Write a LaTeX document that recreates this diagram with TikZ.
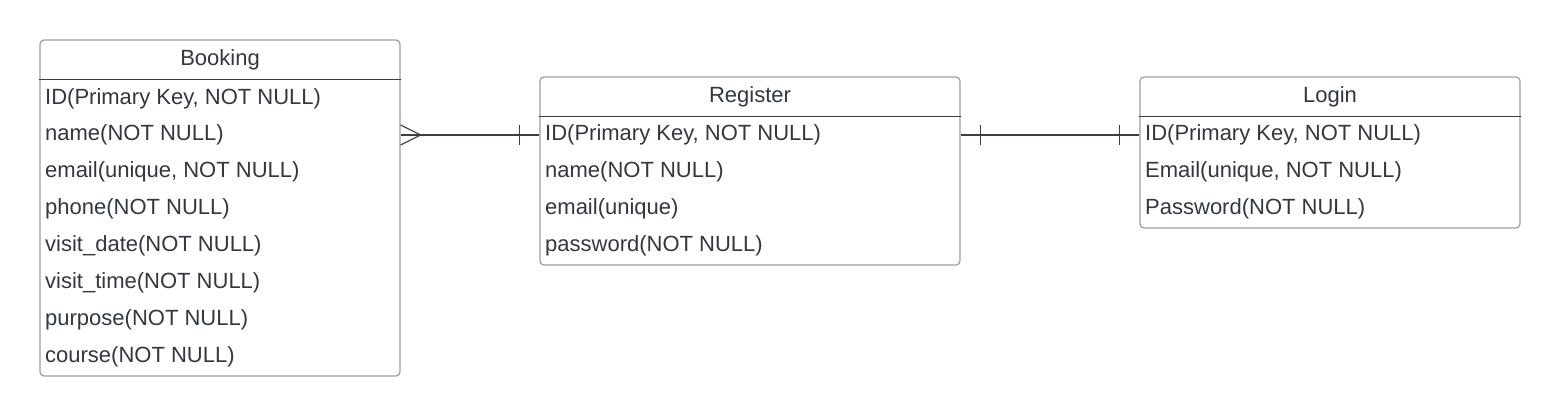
\documentclass[tikz,border=0pt]{standalone}
\usepackage{fontspec}
\setmainfont{Liberation Sans}
\definecolor{txt}{HTML}{333840}
\definecolor{bord}{HTML}{9A9EA5}
\definecolor{ln}{HTML}{3A3F47}
\begin{document}
\begin{tikzpicture}[x=1pt,y=-1pt,
  tbl/.style={draw=bord, line width=1.2pt, rounded corners=4pt, fill=white, inner sep=0pt},
  sep/.style={draw=ln, line width=1pt},
  conn/.style={draw=ln, line width=1.2pt},
  ttl/.style={anchor=base, inner sep=0pt, text=txt, font=\fontsize{22}{26}\selectfont},
  fld/.style={anchor=base west, inner sep=0pt, text=txt, font=\fontsize{22}{26}\selectfont}]
\useasboundingbox (0,0) rectangle (1560,416);
% boxes
\node[tbl, minimum width=360pt, minimum height=336pt] (booking) at (220,208) {};
\node[tbl, minimum width=420pt, minimum height=188pt] (register) at (750,171) {};
\node[tbl, minimum width=380pt, minimum height=151pt] (login) at (1330,152.5) {};
% header separators
\draw[sep] (booking.west |- 0,79) -- (booking.east |- 0,79);
\draw[sep] (register.west |- 0,116) -- (register.east |- 0,116);
\draw[sep] (login.west |- 0,116) -- (login.east |- 0,116);
% titles
\node[ttl] (bt) at (220,65) {Booking};
\node[ttl] (rt) at (750,102) {Register};
\node[ttl] (lt) at (1330,102) {Login};
% booking fields
\node[fld] (b1) at (45,104) {ID(Primary Key, NOT NULL)};
\node[fld] (b2) at (45,140.85) {name(NOT NULL)};
\node[fld] (b3) at (45,177.7) {email(unique, NOT NULL)};
\node[fld] (b4) at (45,214.55) {phone(NOT NULL)};
\node[fld] (b5) at (45,251.4) {visit\_date(NOT NULL)};
\node[fld] (b6) at (45,288.25) {visit\_time(NOT NULL)};
\node[fld] (b7) at (45,325.1) {purpose(NOT NULL)};
\node[fld] (b8) at (45,362) {course(NOT NULL)};
% register fields
\node[fld] (r1) at (545,140.5) {ID(Primary Key, NOT NULL)};
\node[fld] (r2) at (545,177.3) {name(NOT NULL)};
\node[fld] (r3) at (545,214.1) {email(unique)};
\node[fld] (r4) at (545,251) {password(NOT NULL)};
% login fields
\node[fld] (l1) at (1145,140.5) {ID(Primary Key, NOT NULL)};
\node[fld] (l2) at (1145,177.3) {Email(unique, NOT NULL)};
\node[fld] (l3) at (1145,214.1) {Password(NOT NULL)};
% connector points
\coordinate (bR) at (booking.east |- 0,135);
\coordinate (rL) at (register.west |- 0,135);
\coordinate (rR) at (register.east |- 0,135);
\coordinate (lL) at (login.west |- 0,135);
% Booking -- Register (many to one)
\draw[conn] (bR) -- (rL);
\draw[conn] ([yshift=-10pt]bR) -- ([xshift=20pt]bR) -- ([yshift=10pt]bR);
\draw[conn] ([xshift=-20pt,yshift=-10pt]rL) -- ([xshift=-20pt,yshift=10pt]rL);
% Register -- Login (one to one)
\draw[conn] (rR) -- (lL);
\draw[conn] ([xshift=20pt,yshift=-10pt]rR) -- ([xshift=20pt,yshift=10pt]rR);
\draw[conn] ([xshift=-20pt,yshift=-10pt]lL) -- ([xshift=-20pt,yshift=10pt]lL);
\end{tikzpicture}
\end{document}
